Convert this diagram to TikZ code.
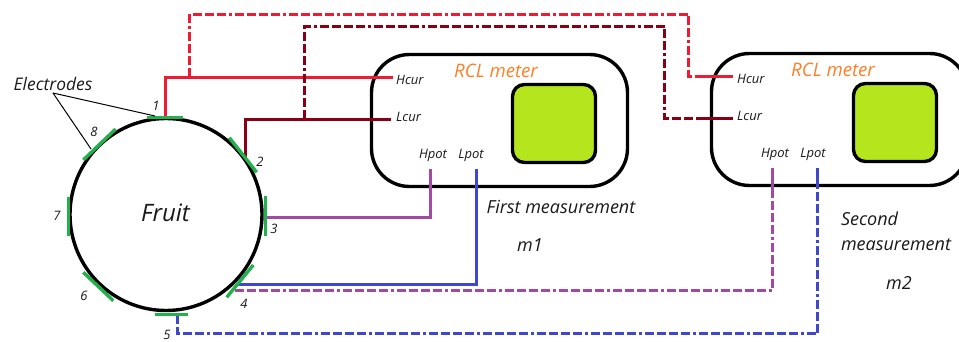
\documentclass[tikz,border=0pt]{standalone}
\usepackage{fontspec}
\setmainfont{Open Sans}
\definecolor{wred}{HTML}{ED1C34}
\definecolor{wdark}{HTML}{880015}
\definecolor{wpurple}{HTML}{A349A4}
\definecolor{wblue}{HTML}{3F48CC}
\definecolor{wgreen}{HTML}{22B14C}
\definecolor{wlime}{HTML}{B5E61D}
\definecolor{worange}{HTML}{FF7F27}
\definecolor{wtext}{HTML}{1A1A1A}
\tikzset{
  wire/.style={line width=3.4pt,line join=miter},
  farwire/.style={wire,dash pattern=on 9pt off 3pt on 9pt off 3pt on 9pt off 3pt on 9pt off 3pt on 3pt off 3pt},
  elec/.style={line width=3.4pt,wgreen},
  meterbox/.style={draw=black,line width=3.4pt,rounded corners=38pt,fill=white,minimum width=256pt,minimum height=132pt,inner sep=0pt},
  screenbox/.style={draw=black,line width=3.4pt,rounded corners=12pt,fill=wlime,minimum width=83pt,minimum height=78pt,inner sep=0pt},
  lab/.style={font=\itshape,text=wtext,inner sep=0pt},
  term/.style={lab,font=\fontsize{13}{15}\selectfont\itshape},
  num/.style={lab,font=\fontsize{13}{15}\selectfont\itshape},
  captxt/.style={lab,font=\fontsize{18}{25}\selectfont\itshape,align=center},
  titletxt/.style={lab,text=worange,font=\fontsize{18.6}{22}\selectfont\itshape},
}
\begin{document}
\begin{tikzpicture}[x=1pt,y=-1pt]
\useasboundingbox (0,0) rectangle (959,342);
\clip (0,0) rectangle (959,342);
% meters
\node[meterbox] (m1) at (499.5,120.5) {};
\node[meterbox] (m2) at (839.5,119.5) {};
\node[screenbox] (s1) at (554,123.5) {};
\node[screenbox] (s2) at (895,122.5) {};
\node[titletxt] (t1) at (496,70.5) {RCL meter};
\node[titletxt] (t2) at (833,69.5) {RCL meter};
% fruit
\node[draw=black,line width=3.4pt,circle,minimum size=192pt,inner sep=0pt] (fruit) at (166,214.5) {};
\node[lab,font=\fontsize{24}{28}\selectfont\itshape] (fruitlab) at (165.5,213) {Fruit};
% electrodes
\coordinate (e1a) at (147,117.5); \coordinate (e1b) at (182.5,117.5);
\coordinate (e2a) at (229.3,137.7); \coordinate (e2b) at (256.7,172.3);
\coordinate (e3a) at (265.5,196); \coordinate (e3b) at (265.5,235.7);
\coordinate (e4a) at (253.3,265); \coordinate (e4b) at (226.7,297.3);
\coordinate (e5a) at (155,314.5); \coordinate (e5b) at (187.7,314.5);
\coordinate (e6a) at (83.3,272.3); \coordinate (e6b) at (113.3,300.7);
\coordinate (e7a) at (68.5,197.3); \coordinate (e7b) at (68.5,236);
\coordinate (e8a) at (83.3,160); \coordinate (e8b) at (115.7,129);
% terminals
\coordinate (hc1) at (393,77.5); \coordinate (lc1) at (391,119.5);
\coordinate (hp1) at (430.5,169); \coordinate (lp1) at (476.5,169);
\coordinate (hc2) at (733,76.5); \coordinate (lc2) at (733,118.5);
\coordinate (hp2) at (772.5,168); \coordinate (lp2) at (817.5,168);
% junctions
\coordinate (p1) at (165.5,117.5);
\coordinate (p2) at (245.5,156.7);
\coordinate (p3) at (265.5,217.5);
\coordinate (p4) at (238,284.5);
\coordinate (p4b) at (235,290.5);
\coordinate (p5) at (177.5,314.5);
\coordinate (jr) at (189.5,77.5);
\coordinate (jd) at (304.5,119.5);
% solid wires
\draw[wire,wred] (p1) -- (p1 |- hc1) -- (hc1);
\draw[wire,wdark] (p2) -- (p2 |- lc1) -- (lc1);
\draw[wire,wpurple] (p3) -- (p3 -| hp1) -- (hp1);
\draw[wire,wblue] (p4) -- (p4 -| lp1) -- (lp1);
% second-measurement wires
\draw[farwire,wred] (jr) -- (189.5,14.5) -- (688.5,14.5) -- (688.5,76.5) -- (hc2);
\draw[farwire,wdark] (jd) -- (304.5,26.5) -- (664.5,26.5) -- (664.5,118.5) -- (lc2);
\draw[farwire,wpurple] (p4b) -- (772.5,290.5) -- (hp2);
\draw[farwire,wblue] (p5) -- (177.5,333.5) -- (817.5,333.5) -- (lp2);
% solid ends in meter 2
\draw[wire,wred] (703,76.5) -- (hc2);
\draw[wire,wdark] (703,118.5) -- (lc2);
\draw[wire,wpurple] (hp2) -- (772.5,193);
\draw[wire,wblue] (lp2) -- (817.5,187);
% electrode bars
\foreach \n in {1,...,8} \draw[elec] (e\n a) -- (e\n b);
% pointers
\coordinate (ptr) at (53,93);
\draw[line width=1pt,black] (ptr) -- (155,116);
\draw[line width=1pt,black] (ptr) -- (91,149);
% labels
\node[lab,font=\fontsize{17.4}{20}\selectfont\itshape] (elab) at (53,84) {Electrodes};
\node[num] (n1) at (156,106) {1};
\node[num] (n2) at (260,162) {2};
\node[num] (n3) at (274,229) {3};
\node[num] (n4) at (244,304) {4};
\node[num] (n5) at (167,334.5) {5};
\node[num] (n6) at (84,296) {6};
\node[num] (n7) at (57,216) {7};
\node[num] (n8) at (94,132) {8};
\node[term] (hcl1) at (396,80) [anchor=west] {Hcur};
\node[term] (lcl1) at (396,117) [anchor=west] {Lcur};
\node[term] (hpl1) at (433,155) {Hpot};
\node[term] (lpl1) at (471,155) {Lpot};
\node[term] (hcl2) at (737,79) [anchor=west] {Hcur};
\node[term] (lcl2) at (737,116) [anchor=west] {Lcur};
\node[term] (hpl2) at (775,154) {Hpot};
\node[term] (lpl2) at (813,154) {Lpot};
\node[captxt] (c1) at (561,207) {First measurement};
\node[captxt] (m1l) at (530,245) {m1};
\node[captxt,align=left] (c2) at (896,231) {Second\\measurement};
\node[captxt] (m2l) at (899,283) {m2};
\end{tikzpicture}
\end{document}
